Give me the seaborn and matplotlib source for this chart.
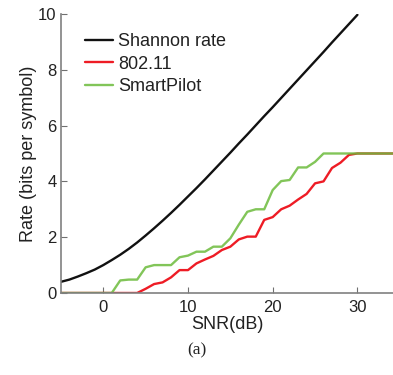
import matplotlib
matplotlib.use("Agg")
import matplotlib.pyplot as plt
import pandas as pd
import seaborn as sns

# SNR grid (dB) and achieved rates (bits per symbol)
snr_shannon = list(range(-5, 31))
rate_shannon = [0.40, 0.48, 0.59, 0.71, 0.84, 1.00, 1.18, 1.37, 1.58, 1.81,
                2.06, 2.32, 2.59, 2.87, 3.16, 3.46, 3.76, 4.07, 4.39, 4.71,
                5.03, 5.36, 5.68, 6.01, 6.34, 6.66, 6.99, 7.32, 7.65, 7.98,
                8.31, 8.64, 8.98, 9.31, 9.64, 9.97]

snr = list(range(-5, 36))
rate_80211 = [0, 0, 0, 0, 0, 0, 0, 0, 0, 0,
              0.15, 0.32, 0.38, 0.56, 0.82, 0.82, 1.06, 1.20, 1.33, 1.54,
              1.66, 1.92, 2.02, 2.02, 2.62, 2.72, 3.00, 3.13, 3.35, 3.55,
              3.93, 4.00, 4.48, 4.67, 4.95, 5.00, 5.00, 5.00, 5.00, 5.00, 5.00]
rate_smartpilot = [0, 0, 0, 0, 0, 0, 0, 0.45, 0.48, 0.48,
                   0.92, 1.00, 1.00, 1.00, 1.28, 1.34, 1.48, 1.48, 1.66, 1.66,
                   1.96, 2.45, 2.91, 3.00, 3.00, 3.69, 4.01, 4.05, 4.50, 4.50,
                   4.70, 5.00, 5.00, 5.00, 5.00, 5.00, 5.00, 5.00, 5.00, 5.00, 5.00]

series_names = ["Shannon rate", "802.11", "SmartPilot"]
series_colors = ["#111111", "#ee1c25", "#6cbb3c"]

sns.set_style("ticks")
plt.rcParams["font.family"] = ["Liberation Sans", "DejaVu Sans"]

fig = plt.figure(figsize=(3.93, 3.75), dpi=100)
ax = fig.add_axes([0.155, 0.2187, 0.845, 0.744])

df_shannon = pd.DataFrame({"snr": snr_shannon, "rate": rate_shannon})
df_80211 = pd.DataFrame({"snr": snr, "rate": rate_80211})
df_sp = pd.DataFrame({"snr": snr, "rate": rate_smartpilot})

for df, name, col in zip([df_shannon, df_80211, df_sp], series_names, series_colors):
    sns.lineplot(data=df, x="snr", y="rate", ax=ax, color=col, lw=1.7,
                 label=name, alpha=0.85 if name == "SmartPilot" else 1.0)

ax.set_xlim(-5, 34.2)
ax.set_ylim(0, 10)
ax.set_xticks([0, 10, 20, 30])
ax.set_yticks([0, 2, 4, 6, 8, 10])
ax.tick_params(direction="in", length=4, width=0.8, color="#707070",
               labelsize=12, labelcolor="#222222")
ax.tick_params(axis="x", pad=5)
ax.tick_params(axis="y", pad=3)
for side in ["top", "right"]:
    ax.spines[side].set_visible(False)
for side in ["left", "bottom"]:
    ax.spines[side].set_color("#808080")
    ax.spines[side].set_linewidth(1.2)

ax.set_xlabel("SNR(dB)", fontsize=13, color="#222222", labelpad=1)
ax.set_ylabel("Rate (bits per symbol)", fontsize=13, color="#222222", labelpad=1)

leg = ax.legend(loc="upper left", frameon=False, fontsize=13,
                handlelength=1.55, handletextpad=0.3, labelspacing=0.3,
                borderaxespad=0.2, bbox_to_anchor=(0.04, 0.97))
for t in leg.get_texts():
    t.set_color("#222222")

fig.text(0.5, 0.065, "(a)", ha="center", va="center", fontsize=12.5,
         family=["Liberation Serif", "DejaVu Serif"], color="#222222")

fig.savefig("out.png", dpi=100)
